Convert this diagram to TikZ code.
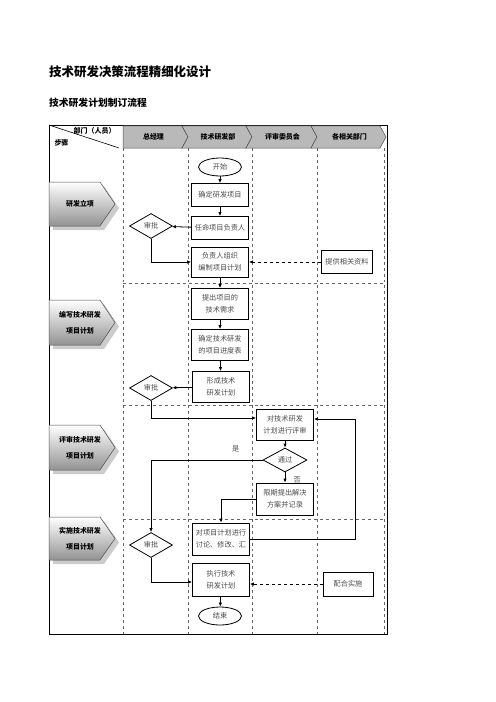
\documentclass[tikz,border=0pt]{standalone}
\usepackage{fontspec}
\usepackage{tikz}
\usetikzlibrary{positioning, calc, arrows.meta, shapes.geometric}
\newfontfamily\cjk{Noto Sans CJK SC}
\tikzset{
    procbox/.style={
        draw, line width=0.8bp, fill=white, font=\cjk\fontsize{7.2}{12}\selectfont,
        text=black!70, align=center, minimum width=57bp, minimum height=23bp, inner sep=1bp
    },
    decision/.style={
        diamond, draw, line width=0.8bp, fill=white, font=\cjk\fontsize{7.2}{9}\selectfont,
        text=black!70, minimum width=43bp, minimum height=25bp, inner sep=0pt
    },
    terminal/.style={
        ellipse, draw, line width=0.8bp, fill=white, font=\cjk\fontsize{7.2}{9}\selectfont,
        text=black!70, minimum width=43bp, minimum height=18bp, inner sep=0pt
    },
    flow/.style={
        -{Latex[length=4bp, width=3.5bp]}, line width=0.8bp
    },
    dflow/.style={
        flow, dashed
    },
    flowlabel/.style={
        font=\cjk\fontsize{7.2}{9}\selectfont, text=black!70
    },
    phasetext/.style={
        font=\cjk\bfseries\fontsize{7}{9}\selectfont, align=center
    },
    lanetext/.style={
        font=\cjk\bfseries\fontsize{7}{9}\selectfont
    },
    lanesep/.style={
        dashed, black!60, line width=0.5bp
    }
}
% phase arrow on the left: top, bottom, name, text
\newcommand{\drawphase}[4]{
    \fill[gray!40] (53,#1+4) -- (104,#1+4) -- (119,{(#1+#2)/2+4}) -- (104,#2+4) -- (53,#2+4) -- cycle;
    \shade[top color=white, bottom color=gray!85, draw=black!70, line width=0.5bp]
        (49,#1) -- (100,#1) -- (115,{(#1+#2)/2}) -- (100,#2) -- (49,#2) -- cycle;
    \node[phasetext] (#3) at (80,{(#1+#2)/2}) {#4};
}

\begin{document}
\begin{tikzpicture}[x=1bp, y=-1bp]
    \useasboundingbox (0,0) rectangle (496,702);

    % --- TITLES ---
    \node[anchor=west, inner sep=0pt, font=\cjk\bfseries\fontsize{12.5}{14}\selectfont] (title) at (49,72) {技术研发决策流程精细化设计};
    \node[anchor=west, inner sep=0pt, font=\cjk\bfseries\fontsize{9.8}{12}\selectfont] (subtitle) at (49,103) {技术研发计划制订流程};

    % --- FRAME AND LANES ---
    \draw[line width=0.8bp] (49,125) rectangle (387,634);
    \draw[line width=0.6bp] (49,125) -- (119,148);
    \draw[line width=0.6bp] (123,125) -- (123,148);
    \node[lanetext, anchor=east] (dept) at (119,131) {部门（人员）};
    \node[lanetext, anchor=west] (stepname) at (51,143) {步骤};

    \foreach \xl/\xr/\nt/\nm/\txt in {123/188/0/zjl/总经理, 188/252/6/jsb/技术研发部, 252/317/6/psw/评审委员会, 317/386/6/xgb/各相关部门}{
        \shade[left color=gray!55, middle color=gray!10, right color=gray!55, draw=black!70, line width=0.5bp]
            (\xl-\nt,126) -- (\xr-6,126) -- (\xr,137) -- (\xr-6,148) -- (\xl-\nt,148) -- (\xl,137) -- cycle;
        \node[lanetext] (h\nm) at ({(\xl+\xr)/2-2},137) {\txt};
    }

    \foreach \x in {123,188,252,317,384}
        \draw[lanesep] (\x,148) -- (\x,634);
    \foreach \y in {283,405,519}
        \draw[lanesep] (123,\y) -- (384,\y);

    % --- PHASES ---
    \drawphase{182}{226}{ph1}{研发立项}
    \drawphase{300}{345}{ph2}{编写技术研发\\[7bp]项目计划}
    \drawphase{425}{470}{ph3}{评审技术研发\\[7bp]项目计划}
    \drawphase{517}{560}{ph4}{实施技术研发\\[7bp]项目计划}

    % --- FLOW NODES ---
    \node[terminal] (start) at (220,167) {开始};
    \node[procbox] (setproj) at (220,195) {确定研发项目};
    \node[procbox] (appoint) at (220,228) {任命项目负责人};
    \node[decision] (appr1) at (151,226) {审批};
    \node[procbox, minimum height=30bp] (draftplan) at (220,262) {负责人组织\\编制项目计划};
    \node[procbox, minimum width=51bp] (provide) at (347,262) {提供相关资料};

    \node[procbox, minimum height=31bp] (techreq) at (220,304) {提出项目的\\技术需求};
    \node[procbox, minimum height=31bp] (schedule) at (220,345) {确定技术研发\\的项目进度表};
    \node[procbox, minimum height=31bp] (formplan) at (221,387) {形成技术\\研发计划};
    \node[decision] (appr2) at (151,388) {审批};

    \node[procbox, minimum height=31bp] (review) at (285,425) {对技术研发\\计划进行评审};
    \node[decision, minimum width=44bp, minimum height=24bp] (pass) at (285,460) {通过};
    \node[procbox, minimum height=32bp] (solve) at (285,499) {限期提出解决\\方案并记录};

    \node[procbox, minimum height=32bp] (discuss) at (221,539) {对项目计划进行\\讨论、修改、汇};
    \node[decision] (appr3) at (151,545) {审批};
    \node[procbox, minimum height=33bp] (execute) at (221,580) {执行技术\\研发计划};
    \node[procbox, minimum width=50bp, minimum height=24bp] (cooperate) at (348,584) {配合实施};
    \node[terminal] (finish) at (220,616) {结束};

    % --- CONNECTORS ---
    \draw[flow] (start) -- (setproj);
    \draw[flow] (setproj) -- (appoint);
    \draw[flow] (appoint) -- (appr1);
    \draw[flow] (appr1.south) |- (draftplan.west);
    \draw[dflow] (provide) -- (draftplan);
    \draw[flow] (draftplan) -- (techreq);
    \draw[flow] (techreq) -- (schedule);
    \draw[flow] (schedule) -- (formplan);
    \draw[flow] (formplan) -- (appr2);
    \draw[flow] (appr2.south) |- ([yshift=7bp]review.west);
    \draw[flow] (review) -- (pass);
    \draw[flow] (pass.west) -| node[pos=0.12, above=4bp, flowlabel] (yes) {是} (appr3.north);
    \draw[flow] (pass) -- node[right=5bp, pos=0.7, flowlabel] (no) {否} (solve);
    \draw[flow] (solve.west) -| (discuss.north);
    \draw[flow] (discuss.east) -- ++(105,0) |- ([yshift=6bp]review.east);
    \draw[flow] (appr3.south) |- ([yshift=-2bp]execute.west);
    \draw[dflow] (cooperate.west) -- (cooperate.west -| execute.east);
    \draw[flow] (execute) -- (finish);
\end{tikzpicture}
\end{document}
